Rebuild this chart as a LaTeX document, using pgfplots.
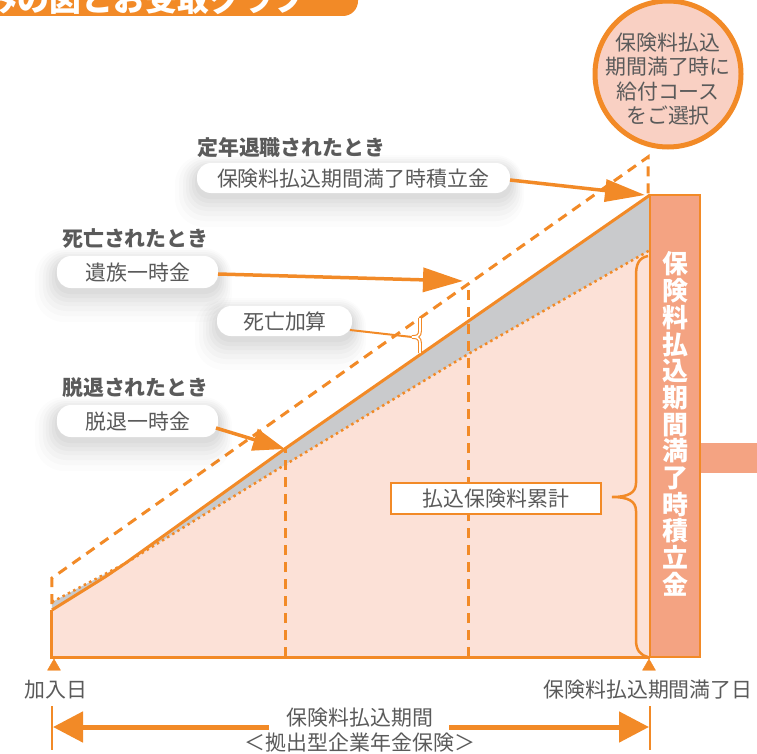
\documentclass[border=0pt]{standalone}
\usepackage{fontspec}
\setmainfont{Noto Sans CJK JP}
\usepackage{pgfplots}
\pgfplotsset{compat=1.18}
\usetikzlibrary{arrows.meta}
\definecolor{org}{HTML}{F28A27}
\definecolor{pinkf}{HTML}{FCE1D7}
\definecolor{grayf}{HTML}{C9CACC}
\definecolor{salm}{HTML}{F4A382}
\definecolor{circf}{HTML}{F9D0C3}
\definecolor{txt}{HTML}{5A5A5A}
\newcommand\fs[1]{\fontsize{#1}{#1}\selectfont}
\newcommand\shb[4]{%
  \fill[black,opacity=0.025,rounded corners=15bp] (axis cs:{#1-2},{#2+3}) rectangle (axis cs:{#3+2},{#4+6});
  \fill[black,opacity=0.025,rounded corners=17bp] (axis cs:{#1-5},{#2+2}) rectangle (axis cs:{#3+4},{#4+10});
  \fill[black,opacity=0.022,rounded corners=19bp] (axis cs:{#1-8},{#2+0}) rectangle (axis cs:{#3+6},{#4+14});
  \fill[black,opacity=0.02,rounded corners=21bp] (axis cs:{#1-11},{#2-2}) rectangle (axis cs:{#3+8},{#4+18});
  \fill[black,opacity=0.018,rounded corners=23bp] (axis cs:{#1-14},{#2-4}) rectangle (axis cs:{#3+10},{#4+23});
  \fill[black,opacity=0.015,rounded corners=26bp] (axis cs:{#1-18},{#2-6}) rectangle (axis cs:{#3+12},{#4+28});
  \fill[black,opacity=0.012,rounded corners=29bp] (axis cs:{#1-22},{#2-8}) rectangle (axis cs:{#3+14},{#4+34});
}
\begin{document}
\begin{tikzpicture}
\begin{axis}[at={(0,0)},anchor=south west,width=757bp,height=754bp,scale only axis,
  xmin=0,xmax=757,ymin=0,ymax=754,y dir=reverse,hide axis,clip=false]
% title banner
\fill[org,rounded corners=15bp] (axis cs:-40,-40) rectangle (axis cs:358,16);
\node[anchor=base west,inner sep=0,text=white,font=\bfseries\fs{32}] at (axis cs:-78,12) {仕組みの図とお受取グラフ};
% pink area (premium cumulative)
\addplot[fill=pinkf,draw=none,mark=none] coordinates {(52,657)(52,610)(105,577)(125,563.5)(283,466)(470,353)(645,253)(650,250)(650,657)};
% gray area (difference)
\addplot[fill=grayf,draw=none,mark=none] coordinates {(52,602)(125,563.5)(105,577)(52,610)};
\addplot[fill=grayf,draw=none,mark=none] coordinates {(125,563.5)(286,448)(470,320)(650,195)(650,250)(645,253)(470,353)(283,466)};
% vertical dashed lines
\addplot[org,line width=3bp,dash pattern=on 10bp off 7bp,mark=none] coordinates {(285,657)(285,449)};
\addplot[org,line width=3bp,dash pattern=on 10bp off 7bp,mark=none] coordinates {(468,657)(468,286)};
% dotted premium line
\addplot[org,line width=2.5bp,dash pattern=on 2.5bp off 3.5bp,mark=none] coordinates {(52,602)(125,563.5)(283,466)(470,353)(645,253)(650,250)};
% solid accumulation line
\addplot[org,line width=3bp,mark=none] coordinates {(52,610)(105,577)(125,563.5)(286,448)(470,320)(650,195)};
% dashed death benefit line
\addplot[org,line width=3bp,dash pattern=on 10bp off 7bp,mark=none] coordinates {(52,604)(52,578)(648,157)(648,195)};
% base and left edge
\draw[org,line width=3bp] (axis cs:52,610) -- (axis cs:52,657) -- (axis cs:650,657);
% right bar
\fill[salm] (axis cs:701,443) rectangle (axis cs:757,473);
\draw[fill=salm,draw=org,line width=2.5bp] (axis cs:650,195) rectangle (axis cs:700,657);
\node[text=white,font=\bfseries\fontsize{26}{26.8}\selectfont,align=center,inner sep=0] at (axis cs:675,424) {保\\険\\料\\払\\込\\期\\間\\満\\了\\時\\積\\立\\金};
% big brace
\draw[org,line width=2.5bp] (axis cs:648,256) .. controls (axis cs:638,258) and (axis cs:636,265) .. (axis cs:636,276) -- (axis cs:636,483) .. controls (axis cs:636,493) and (axis cs:628,497) .. (axis cs:612,497) .. controls (axis cs:628,497) and (axis cs:636,501) .. (axis cs:636,511) -- (axis cs:636,640) .. controls (axis cs:636,650) and (axis cs:640,655) .. (axis cs:648,657);
\node[draw=org,line width=2.5bp,fill=white,minimum width=210bp,minimum height=31bp,inner sep=0,text=txt,font=\fs{21}] at (axis cs:496,498.5) {払込保険料累計};
% circle
\draw[fill=circf,draw=org,line width=5bp] (axis cs:668,74) circle[radius=73bp];
\node[text=txt,font=\fontsize{21}{24.5}\selectfont,align=center,inner sep=0] at (axis cs:668,79) {保険料払込\\期間満了時に\\給付コース\\をご選択};
% shadows and label boxes
\shb{197}{163}{510}{193}
\shb{57}{256}{218}{288}
\shb{217}{306}{352}{336}
\shb{57}{405}{218}{437}
\fill[white,rounded corners=14bp] (axis cs:197,163) rectangle (axis cs:510,193);
\fill[white,rounded corners=14bp] (axis cs:57,256) rectangle (axis cs:218,288);
\fill[white,rounded corners=14bp] (axis cs:217,306) rectangle (axis cs:352,336);
\fill[white,rounded corners=14bp] (axis cs:57,405) rectangle (axis cs:218,437);
\node[text=txt,font=\fs{21}] at (axis cs:353,179) {保険料払込期間満了時積立金};
\node[text=txt,font=\fs{21}] at (axis cs:138,273) {遺族一時金};
\node[text=txt,font=\fs{21}] at (axis cs:285,322) {死亡加算};
\node[text=txt,font=\fs{21}] at (axis cs:138,422) {脱退一時金};
\node[anchor=west,inner sep=0,text=txt,font=\bfseries\fs{21}] at (axis cs:197,148) {定年退職されたとき};
\node[anchor=west,inner sep=0,text=txt,font=\bfseries\fs{21}] at (axis cs:62,239) {死亡されたとき};
\node[anchor=west,inner sep=0,text=txt,font=\bfseries\fs{21}] at (axis cs:62,388) {脱退されたとき};
% arrows
\draw[org,line width=3.5bp,-{Triangle[length=40bp,width=22bp]}] (axis cs:510,180) -- (axis cs:645,195);
\draw[org,line width=3.5bp,-{Triangle[length=40bp,width=24bp]}] (axis cs:218,274) -- (axis cs:463,281);
\draw[org,line width=3.5bp,-{Triangle[length=32bp,width=22bp]}] (axis cs:216,428) -- (axis cs:285,449);
% death add bracket
\draw[org,line width=2bp] (axis cs:350,330) -- (axis cs:412,337);
\draw[org,line width=1.1bp,double=white,double distance=1.6bp] (axis cs:420,318) -- (axis cs:420,331) .. controls (axis cs:420,336) and (axis cs:417,337) .. (axis cs:412,337) .. controls (axis cs:417,337) and (axis cs:420,338) .. (axis cs:420,343) -- (axis cs:420,353);
% markers at dates
\addplot[only marks,mark=triangle*,mark size=7.5bp,color=org,mark options={fill=org,draw=org}] coordinates {(54,666.5)(649,666.5)};
\node[text=txt,font=\fs{21}] at (axis cs:56,690) {加入日};
\node[text=txt,font=\fs{21}] at (axis cs:648,690) {保険料払込期間満了日};
% bottom period arrow
\draw[org,line width=1.5bp] (axis cs:52,706) -- (axis cs:52,750);
\draw[org,line width=1.5bp] (axis cs:650,706) -- (axis cs:650,750);
\draw[org,line width=5bp,-{Triangle[length=30bp,width=30bp]}] (axis cs:269,727) -- (axis cs:53,727);
\draw[org,line width=5bp,-{Triangle[length=30bp,width=30bp]}] (axis cs:449,727) -- (axis cs:649,727);
\node[text=txt,font=\fs{21}] at (axis cs:360,718) {保険料払込期間};
\node[text=txt,font=\fs{21}] at (axis cs:360,743) {＜拠出型企業年金保険＞};
\end{axis}
\pgfresetboundingbox
\path[use as bounding box] (0,0) rectangle (757bp,754bp);
\end{tikzpicture}
\end{document}
